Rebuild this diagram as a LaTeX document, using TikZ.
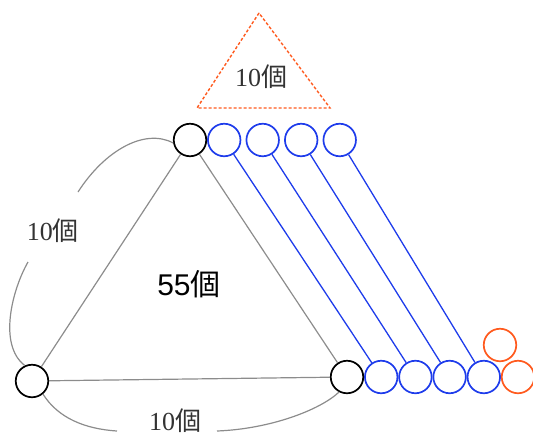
\documentclass[tikz,border=0pt]{standalone}
\usepackage{fontspec}
\setmainfont{Liberation Serif}
\setsansfont{Liberation Sans}
\newfontfamily\jp{Noto Sans CJK JP}
\usetikzlibrary{positioning}
\definecolor{ballblue}{RGB}{30,60,235}
\definecolor{ballorange}{RGB}{255,90,30}
\newcommand{\ko}{{\jp 個}}

\begin{document}
\begin{tikzpicture}[
    x=1pt, y=-1pt,
    ball/.style={circle, minimum size=32.5pt, inner sep=0pt, draw=black, line width=1.7pt},
    blueball/.style={ball, draw=ballblue},
    orangeball/.style={ball, draw=ballorange},
    edge/.style={draw=black!45, line width=1.2pt},
    link/.style={draw=ballblue, line width=1.3pt},
    tri/.style={draw=ballorange, line width=1.4pt, dash pattern=on 3pt off 2pt},
    count/.style={font=\fontsize{26}{29}\selectfont, text=black!80, inner sep=0pt}
]
    \useasboundingbox (0,0) rectangle (533,437);

    % Corner balls
    \node (top) [ball] at (190,140) {};
    \node (left) [ball] at (32,381) {};
    \node (right) [ball] at (347,377) {};

    % Top row
    \node (t1) [blueball, right=0pt of top] {};
    \node (t2) [blueball, right=4.3pt of t1] {};
    \node (t3) [blueball, right=4.3pt of t2] {};
    \node (t4) [blueball, right=4.3pt of t3] {};

    % Bottom row
    \node (b1) [blueball, right=0pt of right] {};
    \node (b2) [blueball, right=0pt of b1] {};
    \node (b3) [blueball, right=0pt of b2] {};
    \node (b4) [blueball, right=0pt of b3] {};
    \node (o1) [orangeball, right=0pt of b4] {};
    \node (o2) [orangeball] at (500,345) {};

    % Triangle sides
    \draw [edge] (top) -- (left);
    \draw [edge] (left) -- (right);
    \draw [edge] (top) -- (right);

    % Links between the rows
    \draw [link] (t1) -- (b1);
    \draw [link] (t2) -- (b2);
    \draw [link] (t3) -- (b3);
    \draw [link] (t4) -- (b4);

    % Side arcs
    \coordinate (la) at (78,192);
    \coordinate (lb) at (28,262);
    \coordinate (ba) at (117,431);
    \coordinate (bb) at (217,431);
    \draw [edge] (top.190) .. controls (145,128) and (105,150) .. (la);
    \draw [edge] (lb) .. controls (12,290) and (-2,345) .. (left.115);
    \draw [edge] (left.-50) .. controls (58,418) and (85,429) .. (ba);
    \draw [edge] (bb) .. controls (270,429) and (320,410) .. (right.-118);

    % Small triangle
    \coordinate (apex) at (259,13);
    \coordinate (tl) at (197,108);
    \coordinate (tr) at (330,108);
    \draw [tri] (apex) -- (tl) -- (tr) -- cycle;

    % Labels
    \node (ntri) [count] at (261,77) {10\ko};
    \node (nleft) [count] at (53,231) {10\ko};
    \node (nbottom) [count] at (175,421) {10\ko};
    \node (ntotal) [font=\sffamily\fontsize{30}{34}\selectfont] at (189,284) {55\ko};

\end{tikzpicture}
\end{document}
